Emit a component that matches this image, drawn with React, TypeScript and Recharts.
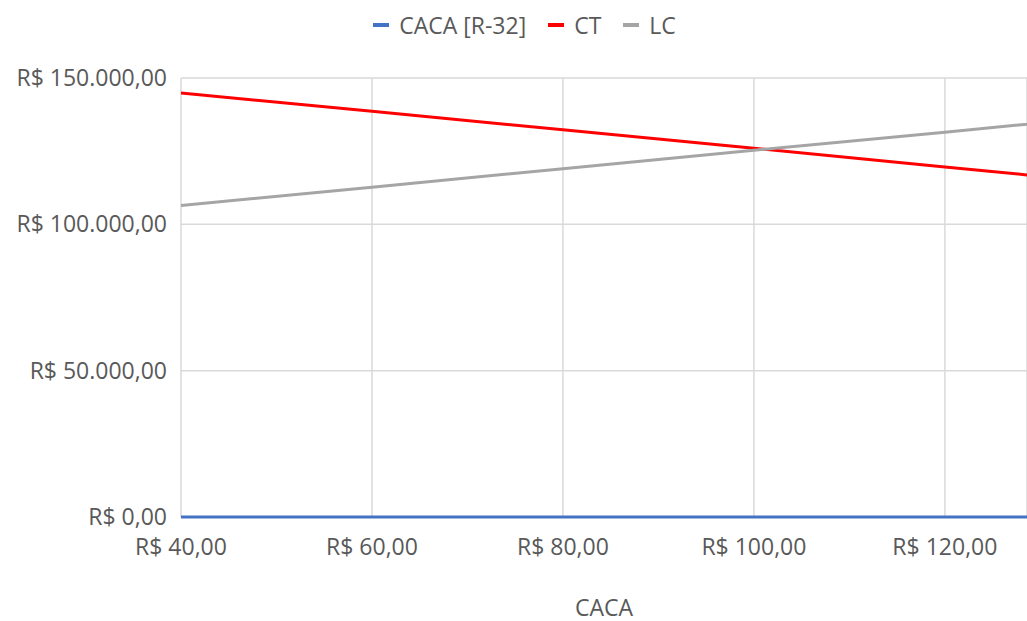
import { CartesianGrid, Legend, Line, LineChart, XAxis, YAxis } from "recharts";

const precos = [40, 60, 80, 100, 120, 140];
const cacaR32 = [0, 0, 0, 0, 0, 0];
const custoTotal = [144900, 138600, 132300, 126000, 119600, 113300];
const lucro = [106400, 112700, 119000, 125300, 131500, 137800];
const xTicks = [40, 60, 80, 100, 120];
const yTicks = [0, 50000, 100000, 150000];

const series = [
  { key: "caca", name: "CACA [R-32]", color: "#4472C4" },
  { key: "ct", name: "CT", color: "#FF0000" },
  { key: "lc", name: "LC", color: "#A5A5A5" },
];

const data = precos.map((p, i) => ({
  preco: p,
  caca: cacaR32[i],
  ct: custoTotal[i],
  lc: lucro[i],
}));

const FONT = "'Open Sans', sans-serif";
const TEXT = "#595959";

const brl = (v: number, dec = 2) =>
  "R$ " +
  v.toLocaleString("pt-BR", { minimumFractionDigits: dec, maximumFractionDigits: dec });

function LegendBox() {
  return (
    <div
      style={{
        height: 36,
        display: "flex",
        justifyContent: "center",
        alignItems: "center",
        gap: 22,
        paddingLeft: 22,
        fontFamily: FONT,
        fontSize: 23,
        color: TEXT,
      }}
    >
      {series.map((s) => (
        <div key={s.key} style={{ display: "flex", alignItems: "center", gap: 10 }}>
          <span style={{ display: "inline-block", width: 16, height: 4, background: s.color }} />
          <span>{s.name}</span>
        </div>
      ))}
    </div>
  );
}

export default function App() {
  return (
    <div style={{ width: 1027, height: 621, background: "#fff" }}>
      <style>{"body{margin:0;overflow:hidden}"}</style>
      <LineChart width={1027} height={621} data={data} margin={{ top: 42, right: 0, bottom: 0, left: 0 }}>
        <CartesianGrid stroke="#D9D9D9" strokeWidth={1.5} />
        <XAxis
          dataKey="preco"
          type="number"
          domain={[40, 128.6]}
          allowDataOverflow
          ticks={xTicks}
          tickFormatter={(v) => brl(v)}
          tick={{ fontSize: 23, fill: TEXT, fontFamily: FONT }}
          tickLine={false}
          axisLine={false}
          tickMargin={16}
          height={104}
          label={{
            value: "CACA",
            position: "insideBottom",
            offset: 5,
            fontSize: 23,
            fill: TEXT,
            fontFamily: FONT,
          }}
        />
        <YAxis
          domain={[0, 150000]}
          ticks={yTicks}
          tickFormatter={(v) => brl(v)}
          tick={{ fontSize: 23, fill: TEXT, fontFamily: FONT }}
          tickLine={false}
          axisLine={false}
          tickMargin={8}
          width={181}
        />
        <Legend verticalAlign="top" content={() => <LegendBox />} wrapperStyle={{ top: 7 }} />
        {series.map((s) => (
          <Line
            key={s.key}
            dataKey={s.key}
            name={s.name}
            stroke={s.color}
            strokeWidth={3}
            dot={false}
            isAnimationActive={false}
          />
        ))}
      </LineChart>
    </div>
  );
}
